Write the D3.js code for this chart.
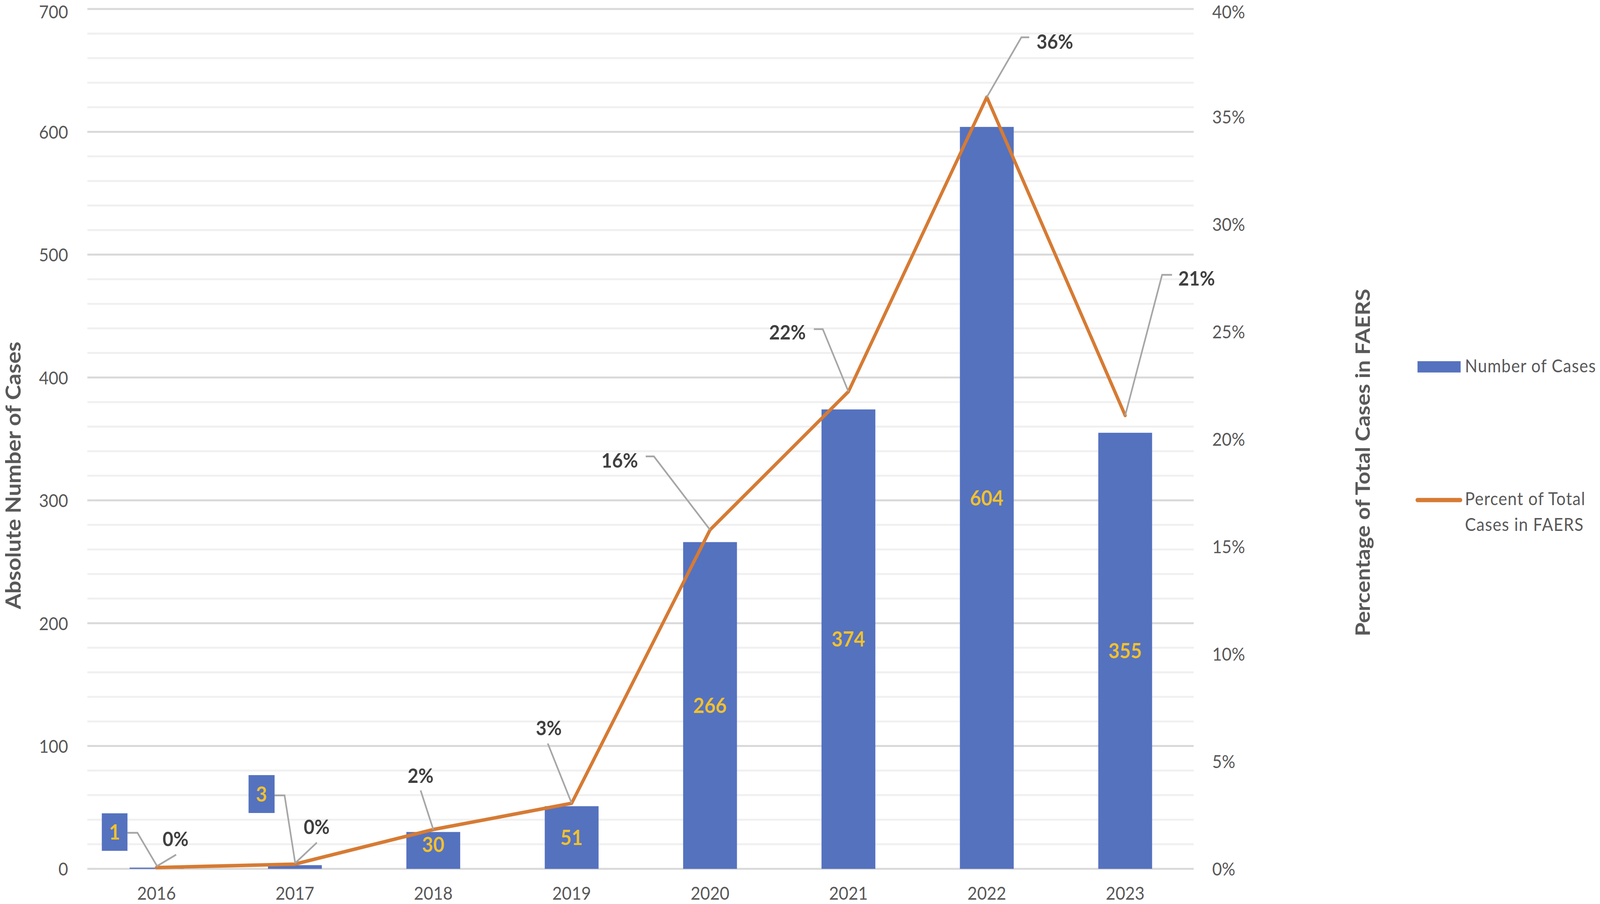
<!DOCTYPE html>
<html>
<head>
<meta charset="utf-8">
<script src="https://cdn.jsdelivr.net/npm/d3@7"></script>
<style>
  html, body { margin: 0; padding: 0; background: #ffffff; overflow: hidden; width: 100%; height: 100%; }
  svg { display: block; width: 100vw; height: 100vh; }
</style>
</head>
<body>
<script>
// ---------------- DATA ----------------
const years = ["2016", "2017", "2018", "2019", "2020", "2021", "2022", "2023"];
const cases = [1, 3, 30, 51, 266, 374, 604, 355];
const percents = [0.06, 0.22, 1.83, 3.05, 15.77, 22.2, 35.9, 21.09];
const percentLabels = ["0%", "0%", "2%", "3%", "16%", "22%", "36%", "21%"];
const countTicks = [0, 100, 200, 300, 400, 500, 600, 700];
const percentTicks = [0, 5, 10, 15, 20, 25, 30, 35, 40];
const seriesNames = ["Number of Cases", "Percent of Total Cases in FAERS"];
const leftTitle = "Absolute Number of Cases";
const rightTitle = "Percentage of Total Cases in FAERS";

// ---------------- LAYOUT (label callout offsets, relative to their point) ----------------
const pctLabelLayout = [
  { label: [53.5, -73],   leader: [[0, -3], [55, -33]] },
  { label: [61, -95],     leader: [[0, -2], [61.6, -55]] },
  { label: [-35.5, -138], leader: [[0, 0], [-35.5, -100]] },
  { label: [-64, -193],   leader: [[0, 0], [-67, -153]] },
  { label: [-253.5, -178], leader: [[0, 0], [-157.5, -188], [-180.5, -188]] },
  { label: [-171, -152],  leader: [[0, 0], [-72, -160], [-97, -160]] },
  { label: [191, -142],   leader: [[0, 0], [97, -153], [119, -153]] },
  { label: [200.5, -351.5], leader: [[0, 0], [103.5, -360], [131.5, -360]] }
];
const barCalloutLayout = {
  0: { box: [-117.5, -91, 72, 96], leader: [[-81.5, -89], [-53.5, -89], [1.5, -4]] },
  1: { box: [-93.5, -182, 73, 97], leader: [[-57, -178.6], [-29, -178.6], [1, -4.6]] }
};

// ---------------- STYLE ----------------
const W = 4489, H = 2314;
const plot = { left: 245, right: 3351, top: 23, bottom: 2224 };
const C = {
  bar: "#5572BF", line: "#D67B34", barText: "#F2C12E", pctText: "#404040",
  tick: "#595959", title: "#595959", major: "#D9D9D9", minor: "#F0F0F0", leader: "#A6A6A6"
};
const FONT = "Lato, 'Open Sans', sans-serif";

const svg = d3.select("body").append("svg")
  .attr("viewBox", `0 0 ${W} ${H}`)
  .attr("preserveAspectRatio", "none")
  .style("font-family", FONT);

svg.append("rect").attr("width", W).attr("height", H).attr("fill", "#fff");

const x = d3.scaleBand().domain(years).range([plot.left, plot.right])
  .paddingInner(0.611).paddingOuter(0.3055);
const y = d3.scaleLinear().domain([0, 700]).range([plot.bottom, plot.top]);
const y2 = d3.scaleLinear().domain([0, 40]).range([plot.bottom, plot.top]);
const xc = d => x(d) + x.bandwidth() / 2;

// gridlines
const minorVals = d3.range(0, 701, 20).filter(v => v % 100 !== 0);
svg.append("g").selectAll("line").data(minorVals).join("line")
  .attr("x1", plot.left).attr("x2", plot.right - 2)
  .attr("y1", d => y(d)).attr("y2", d => y(d))
  .attr("stroke", C.minor).attr("stroke-width", 5);
svg.append("g").selectAll("line").data(countTicks).join("line")
  .attr("x1", plot.left).attr("x2", plot.right - 2)
  .attr("y1", d => y(d)).attr("y2", d => y(d))
  .attr("stroke", C.major).attr("stroke-width", 5);

// axes
const axL = svg.append("g").attr("transform", `translate(${plot.left},0)`)
  .call(d3.axisLeft(y).tickValues(countTicks).tickSize(0).tickPadding(54));
const axR = svg.append("g").attr("transform", `translate(${plot.right - 2},0)`)
  .call(d3.axisRight(y2).tickValues(percentTicks).tickSize(0).tickPadding(52).tickFormat(d => d + "%"));
const axB = svg.append("g").attr("transform", `translate(0,${plot.bottom})`)
  .call(d3.axisBottom(x).tickSize(0).tickPadding(46));
[axL, axR, axB].forEach(g => {
  g.select(".domain").remove();
  g.selectAll("text").attr("font-family", FONT).attr("font-size", 47).attr("fill", C.tick);
});
axL.selectAll("text").attr("dy", "0.36em");
axR.selectAll("text").attr("dy", "0.36em");
// keep the topmost tick labels fully inside the picture
[axL, axR].forEach(g => g.selectAll("text").each(function () {
  const b = this.getBBox();
  const tr = this.parentNode.getAttribute("transform") || "";
  const m = /translate\(\s*[-\d.]+\s*,\s*([-\d.]+)/.exec(tr);
  const ty = m ? +m[1] : 0;
  const top = ty + b.y;
  if (top < 1) d3.select(this).attr("transform", `translate(0,${1 - top})`);
}));

// bars
svg.append("g").selectAll("rect").data(years).join("rect")
  .attr("x", d => x(d)).attr("width", x.bandwidth())
  .attr("y", (d, i) => y(cases[i]))
  .attr("height", (d, i) => y(0) - y(cases[i]))
  .attr("fill", C.bar);

// bar labels (centered in bar)
svg.append("g").selectAll("text").data(years.map((d, i) => i).filter(i => !barCalloutLayout[i]))
  .join("text")
  .attr("x", i => xc(years[i]))
  .attr("y", i => Math.min((y(cases[i]) + y(0)) / 2, y(0) - 62) + 0.358 * 54)
  .attr("text-anchor", "middle")
  .attr("font-size", 54).attr("font-weight", 700).attr("fill", C.barText)
  .text(i => cases[i]);

// line
const linePts = years.map((d, i) => [xc(d), y2(percents[i])]);
svg.append("path").datum(linePts)
  .attr("d", d3.line())
  .attr("fill", "none").attr("stroke", C.line).attr("stroke-width", 9)
  .attr("stroke-linejoin", "round").attr("stroke-linecap", "round");

// bar callouts (for small bars)
Object.keys(barCalloutLayout).forEach(k => {
  const i = +k, L = barCalloutLayout[k];
  const bx = xc(years[i]), by = y(cases[i]);
  svg.append("path")
    .attr("d", d3.line()(L.leader.map(p => [bx + p[0], by + p[1]])))
    .attr("fill", "none").attr("stroke", C.leader).attr("stroke-width", 4.5);
  const [cx, cy, w, h] = L.box;
  svg.append("rect")
    .attr("x", bx + cx - w / 2).attr("y", by + cy - h / 2)
    .attr("width", w).attr("height", h).attr("fill", C.bar);
  svg.append("text")
    .attr("x", bx + cx).attr("y", by + cy + 0.358 * 54)
    .attr("text-anchor", "middle")
    .attr("font-size", 54).attr("font-weight", 700).attr("fill", C.barText)
    .text(cases[i]);
});

// percent labels with leader lines
linePts.forEach((p, i) => {
  const L = pctLabelLayout[i];
  svg.append("path")
    .attr("d", d3.line()(L.leader.map(q => [p[0] + q[0], p[1] + q[1]])))
    .attr("fill", "none").attr("stroke", C.leader).attr("stroke-width", 4.5);
  svg.append("text")
    .attr("x", p[0] + L.label[0]).attr("y", p[1] + L.label[1] + 0.358 * 52)
    .attr("text-anchor", "middle")
    .attr("font-size", 52).attr("font-weight", 700).attr("fill", C.pctText)
    .text(percentLabels[i]);
});

// axis titles
svg.append("text")
  .attr("transform", `translate(58,1217) rotate(-90)`)
  .attr("text-anchor", "middle")
  .attr("font-size", 58).attr("font-weight", 700).attr("fill", C.title)
  .text(leftTitle);
svg.append("text")
  .attr("transform", `translate(3843,1184) rotate(-90)`)
  .attr("text-anchor", "middle")
  .attr("font-size", 57).attr("font-weight", 700).attr("fill", C.title)
  .text(rightTitle);

// legend
const lg = svg.append("g");
lg.append("rect").attr("x", 3977).attr("y", 924.5).attr("width", 121).attr("height", 29).attr("fill", C.bar);
lg.append("text").attr("x", 4110).attr("y", 953)
  .attr("font-size", 46).attr("fill", C.tick).attr("letter-spacing", 1.5)
  .text(seriesNames[0]);
lg.append("line").attr("x1", 3977).attr("x2", 4097).attr("y1", 1280).attr("y2", 1280)
  .attr("stroke", C.line).attr("stroke-width", 11).attr("stroke-linecap", "round");
const t2 = lg.append("text").attr("font-size", 46).attr("fill", C.tick).attr("letter-spacing", 1.5);
t2.append("tspan").attr("x", 4110).attr("y", 1293).text("Percent of Total");
t2.append("tspan").attr("x", 4110).attr("y", 1359).text("Cases in FAERS");
</script>
</body>
</html>
